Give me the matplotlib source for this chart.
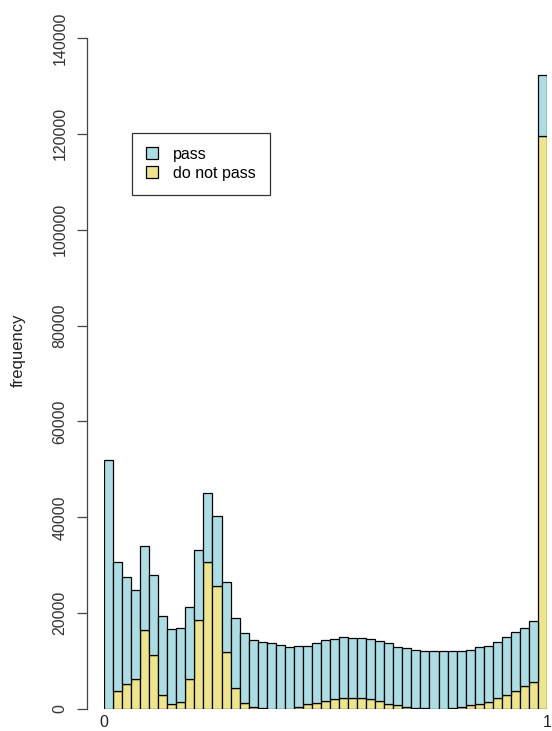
import numpy as np
import matplotlib
matplotlib.use('Agg')
import matplotlib.pyplot as plt

plt.rcParams['font.family'] = ['Liberation Sans', 'DejaVu Sans']

# 49 bins between 0 and 1
bin_edges = np.linspace(0, 1, 50)

# counts per bin
do_not_pass = [0, 3700, 5300, 6200, 16500, 11200, 2900, 1000, 1500, 6200,
               18600, 30600, 25700, 11800, 4300, 1200, 500, 300, 100, 50,
               100, 400, 1000, 1200, 1700, 2000, 2300, 2300, 2300, 2000,
               1600, 1000, 800, 500, 300, 200, 100, 100, 200, 400,
               800, 1000, 1500, 2200, 2900, 3800, 4800, 5600, 119600]
passed = [52000, 27000, 22300, 18600, 17500, 16700, 16400, 15600, 15500, 15000,
          14600, 14500, 14600, 14800, 14600, 14700, 14000, 13600, 13600, 13250,
          12900, 12700, 12200, 12600, 12600, 12700, 12700, 12600, 12500, 12600,
          12600, 12700, 12200, 12300, 12000, 12000, 12000, 12000, 11800, 11700,
          11600, 11900, 11700, 11800, 12100, 12300, 12200, 12700, 12600]

y_ticks = [0, 20000, 40000, 60000, 80000, 100000, 120000, 140000]

col_pass = '#ABDDE4'
col_fail = '#EEE48A'
fs = 11.5

fig = plt.figure(figsize=(5.52, 7.31), dpi=100)
# axes placed so 0 -> x=104px, 1 -> x=547px, y 0 -> 709px, 140000 -> 38px
ax = fig.add_axes([104 / 552, 1 - 709 / 731, 443 / 552, 671 / 731])

left = bin_edges[:-1]
width = np.diff(bin_edges)
ax.bar(left, do_not_pass, width=width, align='edge', color=col_fail,
       edgecolor='black', linewidth=0.9, label='do not pass')
ax.bar(left, passed, width=width, bottom=do_not_pass, align='edge',
       color=col_pass, edgecolor='black', linewidth=0.9, label='pass')

ax.set_xlim(0, 1)
ax.set_ylim(0, 140000)

for s in ['top', 'right', 'bottom']:
    ax.spines[s].set_visible(False)
ax.spines['left'].set_position(('outward', 12.2))
ax.spines['left'].set_color('#444444')
ax.spines['left'].set_linewidth(0.9)

ax.set_yticks(y_ticks)
ax.set_yticklabels([str(t) for t in y_ticks], rotation=90, va='center',
                   fontsize=fs, color='#333333')
ax.tick_params(axis='y', length=7.2, width=0.9, color='#444444', pad=7)
ax.set_xticks([0, 1])
ax.set_xticklabels(['0', '1'], fontsize=fs, color='#222222')
ax.tick_params(axis='x', length=0, pad=4.5)
ax.set_ylabel('frequency', fontsize=fs + 0.5, color='#222222')
ax.yaxis.label.set_va('center')
ax.yaxis.set_label_coords((18 - 104) / 443, (709 - 350) / 671)

handles, labels = ax.get_legend_handles_labels()
leg = ax.legend(handles[::-1], labels[::-1], loc='upper left',
                bbox_to_anchor=((132 - 104) / 443, 1 - (133 - 38) / 671),
                fontsize=fs, frameon=True, fancybox=False, handlelength=0.78,
                handleheight=0.78, handletextpad=0.95, borderpad=0.85,
                labelspacing=0.28, borderaxespad=0)
leg.get_frame().set_edgecolor('black')
leg.get_frame().set_linewidth(0.9)

fig.savefig('out.png', dpi=100)
